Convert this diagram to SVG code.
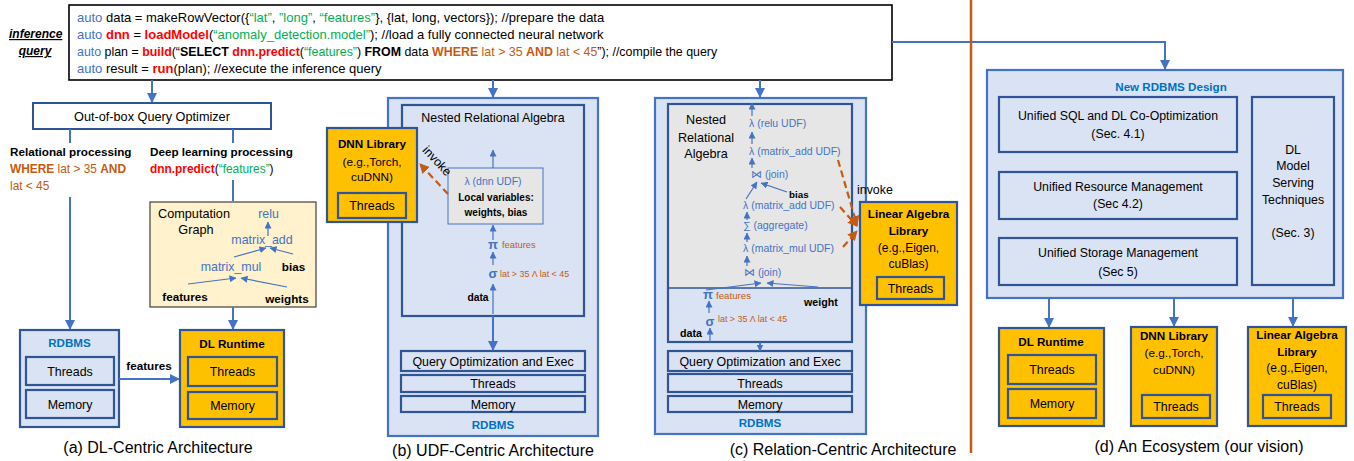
<svg xmlns="http://www.w3.org/2000/svg" width="1354" height="461" viewBox="0 0 1354 461">
<defs>
<marker id="ab" markerUnits="userSpaceOnUse" markerWidth="10" markerHeight="10" refX="9" refY="5" orient="auto" viewBox="0 0 10 10"><path d="M0,0 L10,5 L0,10 z" fill="#4472C4"/></marker>
<marker id="as" markerUnits="userSpaceOnUse" markerWidth="7" markerHeight="7" refX="6.5" refY="3.5" orient="auto" viewBox="0 0 7 7"><path d="M0,0 L7,3.5 L0,7 z" fill="#4472C4"/></marker>
<marker id="ao" markerUnits="userSpaceOnUse" markerWidth="10" markerHeight="10" refX="9" refY="5" orient="auto" viewBox="0 0 10 10"><path d="M0,0 L10,5 L0,10 z" fill="#C55A11"/></marker>
</defs>
<style>
text{font-family:"Liberation Sans",Arial,sans-serif;fill:#000}
.code{font-size:13px}
.kw{fill:#4472C4}
.fn{fill:#FF0000;font-weight:bold}
.str{fill:#00B050}
.b{font-weight:bold}
.or{fill:#C55A11}
.orb{fill:#C55A11;font-weight:bold}
.lbl{font-size:12.4px;text-anchor:middle}
.bl{font-size:11.7px;font-weight:bold;text-anchor:middle}
.cap{font-size:16px;text-anchor:middle}
.rd{fill:#0070C0;font-weight:bold;font-size:11.6px;text-anchor:middle}
.blue{fill:#4472C4}
.udf{fill:#4472C4;font-size:10.5px}
.sym{fill:#4472C4;font-weight:bold;font-size:13px;text-anchor:middle}
.ol{fill:#C55A11;font-size:9.3px}
.sb{font-weight:bold;font-size:10.3px}
.box{fill:#DAE3F3;stroke:#2F5597;stroke-width:2.2}
.obox{fill:#DAE3F3;stroke:#4472C4;stroke-width:2.2}
.ybox{fill:#FFC000;stroke:#2F5597;stroke-width:2.2}
.con{fill:none;stroke:#4472C4;stroke-width:2}
.thin{fill:none;stroke:#4472C4;stroke-width:1.2}
.dash{fill:none;stroke:#C55A11;stroke-width:2.2;stroke-dasharray:7 4}
</style>

<g id="inference-query">
<text x="9" y="38" class="b" style="font-size:12px;font-style:italic;text-decoration:underline">inference</text>
<text x="35" y="55" class="b" style="font-size:12px;font-style:italic;text-decoration:underline;text-anchor:middle">query</text>
</g>

<g id="query-code">
<rect x="69" y="5" width="823" height="75" fill="#fff" stroke="#000" stroke-width="1.6"/>
<text class="code" x="77" y="22"><tspan class="kw">auto</tspan> data = makeRowVector({<tspan class="str">“lat”</tspan>, <tspan class="str">”long”</tspan>, <tspan class="str">“features”</tspan>}, {lat, long, vectors}); //prepare the data</text>
<text class="code" x="77" y="39"><tspan class="kw">auto</tspan> <tspan class="fn">dnn</tspan> = <tspan class="fn">loadModel</tspan>(<tspan class="str">“anomaly_detection.model”</tspan>); //load a fully connected neural network</text>
<text class="code" x="77" y="56" style="font-size:12.4px"><tspan class="kw">auto</tspan> plan = <tspan class="fn">build</tspan>(“<tspan class="b">SELECT</tspan> <tspan class="fn">dnn.predict</tspan>(<tspan class="str">“features”</tspan>) <tspan class="b">FROM</tspan> data <tspan class="orb">WHERE</tspan><tspan class="or"> lat &gt; 35 </tspan><tspan class="orb">AND</tspan><tspan class="or"> lat &lt; 45</tspan>”); //compile the query</text>
<text class="code" x="77" y="73"><tspan class="kw">auto</tspan> result = <tspan class="fn">run</tspan>(plan); //execute the inference query</text>
</g>

<!-- (a) -->
<g id="optimizer">
<rect x="33" y="103" width="238" height="26" fill="#fff" stroke="#2F5597" stroke-width="2"/>
<text class="lbl" x="152" y="120.5" style="font-size:12.7px">Out-of-box Query Optimizer</text>
</g>
<g id="relational-processing">
<text x="10" y="156" class="b" style="font-size:11.7px">Relational processing</text>
<text x="10" y="173" style="font-size:11.9px"><tspan class="orb">WHERE</tspan><tspan class="or"> lat &gt; 35 </tspan><tspan class="orb">AND</tspan></text>
<text x="10" y="190" class="or" style="font-size:11.9px">lat &lt; 45</text>
</g>
<g id="dl-processing">
<text x="150" y="156" class="b" style="font-size:11.7px">Deep learning processing</text>
<text x="150" y="173" style="font-size:11.9px"><tspan class="fn">dnn.predict</tspan>(<tspan class="str">“features”</tspan>)</text>
</g>
<g id="computation-graph">
<rect x="150" y="202" width="166" height="105" fill="#FFF2CC" stroke="#404040" stroke-width="1.2"/>
<text x="158" y="218" style="font-size:12.7px">Computation</text>
<text x="196" y="234" style="font-size:12.7px;text-anchor:middle">Graph</text>
<text x="268.5" y="218" class="lbl blue">relu</text>
<text x="262" y="244" class="lbl blue">matrix_add</text>
<text x="231" y="271" class="lbl blue">matrix_mul</text>
<text x="293.5" y="271" class="bl">bias</text>
<text x="185" y="301" class="bl">features</text>
<text x="287" y="303" class="bl">weights</text>
<path class="thin" d="M268,236 V222" marker-end="url(#as)"/>
<path class="thin" d="M234,257 L266,248" marker-end="url(#as)"/>
<path class="thin" d="M293,254 L270,248" marker-end="url(#as)"/>
<path class="thin" d="M188,284 L236,278" marker-end="url(#as)"/>
<path class="thin" d="M287,287 L241,278" marker-end="url(#as)"/>
</g>
<g id="rdbms-a">
<rect class="box" x="20" y="330" width="99" height="97"/>
<text class="rd" x="69.5" y="347">RDBMS</text>
<rect class="box" x="26" y="357" width="88" height="28"/>
<text class="lbl" x="70" y="375.5">Threads</text>
<rect class="box" x="26" y="390" width="88" height="28"/>
<text class="lbl" x="70" y="408.5">Memory</text>
</g>
<g id="dl-runtime-a">
<rect class="ybox" x="180" y="330" width="104" height="97"/>
<text class="bl" x="232" y="348">DL Runtime</text>
<rect class="ybox" x="188" y="357" width="89" height="29"/>
<text class="lbl" x="232.5" y="376">Threads</text>
<rect class="ybox" x="188" y="392" width="89" height="27"/>
<text class="lbl" x="232.5" y="410">Memory</text>
</g>
<text class="bl" x="149" y="370">features</text>
<text class="cap" x="158" y="453">(a) DL-Centric Architecture</text>

<!-- (b) -->
<g id="rdbms-b">
<rect class="obox" x="388" y="98" width="210" height="338"/>
<rect class="box" x="402" y="105" width="182" height="211"/>
<text class="lbl" x="493" y="122">Nested Relational Algebra</text>
<rect class="box" x="401" y="351" width="184" height="20"/>
<text class="lbl" x="493" y="365.5">Query Optimization and Exec</text>
<rect class="box" x="401" y="375" width="184" height="17"/>
<text class="lbl" x="493" y="388">Threads</text>
<rect class="box" x="401" y="396" width="184" height="16"/>
<text class="lbl" x="493" y="408.5">Memory</text>
<text class="rd" x="493" y="429">RDBMS</text>
</g>
<g id="dnn-udf">
<rect x="448" y="168" width="95" height="56" fill="#E7E6E6" stroke="#4472C4" stroke-width="1"/>
<text class="udf" x="493" y="185" text-anchor="middle">λ (dnn UDF)</text>
<text class="sb" x="496" y="201" text-anchor="middle" style="font-size:10px">Local variables:</text>
<text class="sb" x="496" y="216" text-anchor="middle" style="font-size:10px">weights, bias</text>
</g>
<g id="ops-b">
<text class="sym" x="493" y="249">π</text>
<text class="ol" x="502" y="248">features</text>
<text class="sym" x="493" y="278">σ</text>
<text class="ol" x="500" y="277" style="font-size:8.9px">lat &gt; 35 Λ lat &lt; 45</text>
<text class="sb" x="478" y="301" text-anchor="middle">data</text>
</g>
<g id="dnn-library-b">
<rect class="ybox" x="327" y="128" width="90" height="94"/>
<text class="bl" x="372" y="147.5">DNN Library</text>
<text class="lbl" x="372" y="165.5" style="font-size:11.8px">(e.g.,Torch,</text>
<text class="lbl" x="372" y="180.5" style="font-size:11.8px">cuDNN)</text>
<rect class="ybox" x="338" y="193" width="68" height="25"/>
<text class="lbl" x="372" y="209.5">Threads</text>
</g>
<text x="0" y="4" class="lbl" transform="translate(437,161) rotate(47)">invoke</text>
<text class="cap" x="493" y="456">(b) UDF-Centric Architecture</text>

<!-- (c) -->
<g id="rdbms-c">
<rect class="obox" x="655" y="98" width="211" height="336"/>
<rect x="668" y="104" width="184" height="184" fill="#E7E6E6"/>
<rect x="668" y="288" width="184" height="54" fill="#DAE3F3"/>
<rect x="668" y="104" width="184" height="238" fill="none" stroke="#2F5597" stroke-width="2.2"/>
<line x1="668" y1="288" x2="852" y2="288" stroke="#2F5597" stroke-width="1.4"/>
<text class="lbl" x="706" y="123.5" style="font-size:12.6px">Nested</text>
<text class="lbl" x="706" y="141.5" style="font-size:12.6px">Relational</text>
<text class="lbl" x="706" y="158" style="font-size:12.6px">Algebra</text>
<rect class="box" x="668" y="351" width="184" height="20"/>
<text class="lbl" x="760" y="365.5">Query Optimization and Exec</text>
<rect class="box" x="668" y="374" width="184" height="18"/>
<text class="lbl" x="760" y="387.5">Threads</text>
<rect class="box" x="668" y="396" width="184" height="16"/>
<text class="lbl" x="760" y="408.5">Memory</text>
<text class="rd" x="760" y="427">RDBMS</text>
</g>
<g id="ops-c">
<text class="udf" x="749" y="127">λ (relu UDF)</text>
<text class="udf" x="749" y="155">λ (matrix_add UDF)</text>
<text class="udf" x="751" y="178">⋈ (join)</text>
<text class="sb" x="789" y="197.5" style="font-size:9.8px">bias</text>
<text class="udf" x="743" y="209">λ (matrix_add UDF)</text>
<text class="udf" x="743" y="229">∑ (aggregate)</text>
<text class="udf" x="743" y="252">λ (matrix_mul UDF)</text>
<text class="udf" x="744" y="276">⋈ (join)</text>
<text class="sym" x="708" y="299">π</text>
<text class="ol" x="716" y="298.5" style="font-size:9.7px">features</text>
<text class="sb" x="804" y="306" style="font-size:10.7px">weight</text>
<text class="sym" x="710" y="326">σ</text>
<text class="ol" x="718" y="321.5" style="font-size:8.9px">lat &gt; 35 Λ lat &lt; 45</text>
<text class="sb" x="680" y="337" style="font-size:10.7px">data</text>
</g>
<g id="linear-algebra-c">
<rect class="ybox" x="860" y="202" width="97" height="103"/>
<text class="bl" x="908.5" y="218">Linear Algebra</text>
<text class="bl" x="908.5" y="235">Library</text>
<text class="lbl" x="908.5" y="251.5" style="font-size:12px">(e.g.,Eigen,</text>
<text class="lbl" x="908.5" y="267.5" style="font-size:12px">cuBlas)</text>
<rect class="ybox" x="877" y="277" width="67" height="22"/>
<text class="lbl" x="910.5" y="292.5">Threads</text>
</g>
<text x="857" y="194" style="font-size:12.4px">invoke</text>
<text class="cap" x="843" y="455">(c) Relation-Centric Architecture</text>

<!-- (d) -->
<g id="new-rdbms-design">
<rect class="obox" x="987" y="70" width="356" height="228"/>
<text class="rd" x="1171" y="91">New RDBMS Design</text>
</g>
<g id="co-optimization">
<rect class="box" x="999" y="97" width="238" height="55"/>
<text class="lbl" x="1118" y="120" style="font-size:12.3px">Unified SQL and DL Co-Optimization</text>
<text class="lbl" x="1118" y="138" style="font-size:12.3px">(Sec. 4.1)</text>
</g>
<g id="resource-management">
<rect class="box" x="999" y="172" width="238" height="47"/>
<text class="lbl" x="1118" y="191" style="font-size:12.3px">Unified Resource Management</text>
<text class="lbl" x="1118" y="208" style="font-size:12.3px">(Sec 4.2)</text>
</g>
<g id="storage-management">
<rect class="box" x="999" y="238" width="238" height="47"/>
<text class="lbl" x="1118" y="257" style="font-size:12.3px">Unified Storage Management</text>
<text class="lbl" x="1118" y="276" style="font-size:12.3px">(Sec 5)</text>
</g>
<g id="model-serving">
<rect class="box" x="1252" y="97" width="82" height="188"/>
<text class="lbl" x="1293" y="154" style="font-size:12.3px">DL</text>
<text class="lbl" x="1293" y="170" style="font-size:12.3px">Model</text>
<text class="lbl" x="1293" y="187" style="font-size:12.3px">Serving</text>
<text class="lbl" x="1293" y="204" style="font-size:12.3px">Techniques</text>
<text class="lbl" x="1293" y="237" style="font-size:12.3px">(Sec. 3)</text>
</g>
<g id="dl-runtime-d">
<rect class="ybox" x="999" y="328" width="105" height="98"/>
<text class="bl" x="1051" y="346">DL Runtime</text>
<rect class="ybox" x="1008" y="355" width="88" height="29"/>
<text class="lbl" x="1052" y="374">Threads</text>
<rect class="ybox" x="1008" y="389" width="88" height="29"/>
<text class="lbl" x="1052" y="408">Memory</text>
</g>
<g id="dnn-library-d">
<rect class="ybox" x="1131" y="327" width="86" height="99"/>
<text class="bl" x="1174" y="340">DNN Library</text>
<text class="lbl" x="1174" y="357" style="font-size:11.8px">(e.g.,Torch,</text>
<text class="lbl" x="1174" y="374" style="font-size:11.8px">cuDNN)</text>
<rect class="ybox" x="1142" y="395" width="68" height="23"/>
<text class="lbl" x="1176" y="411">Threads</text>
</g>
<g id="linear-algebra-d">
<rect class="ybox" x="1248" y="327" width="98" height="99"/>
<text class="bl" x="1297" y="339">Linear Algebra</text>
<text class="bl" x="1297" y="356">Library</text>
<text class="lbl" x="1297" y="372" style="font-size:12px">(e.g.,Eigen,</text>
<text class="lbl" x="1297" y="389" style="font-size:12px">cuBlas)</text>
<rect class="ybox" x="1263" y="395" width="68" height="23"/>
<text class="lbl" x="1297" y="411">Threads</text>
</g>
<text class="cap" x="1199" y="452">(d) An Ecosystem (our vision)</text>

<g id="connectors">
<path class="con" d="M152,80 V102" marker-end="url(#ab)"/>
<path class="con" d="M493,80 V97" marker-end="url(#ab)"/>
<path class="con" d="M760,80 V97" marker-end="url(#ab)"/>
<path class="con" d="M892,42 H1165 V69" marker-end="url(#ab)"/>
<path class="con" d="M70,129 V143"/>
<path class="con" d="M70,197 V329" marker-end="url(#ab)"/>
<path class="con" d="M233,129 V143"/>
<path class="con" d="M233,180 V201"/>
<path class="con" d="M233,307 V329" marker-end="url(#ab)"/>
<path class="con" d="M119,379 H179" marker-end="url(#ab)"/>
<path class="thin" d="M493,168 V150" marker-end="url(#as)"/>
<path class="thin" d="M493,240 V225" marker-end="url(#as)"/>
<path class="thin" d="M493,265 V252" marker-end="url(#as)"/>
<path class="thin" d="M493,314 V284" marker-end="url(#as)"/>
<path class="con" d="M493,316 V350" marker-end="url(#ab)"/>
<path class="dash" d="M448,194 L420,164" marker-end="url(#ao)"/>
<path class="thin" d="M752,116 V103" marker-end="url(#as)"/>
<path class="thin" d="M752,144 V132" marker-end="url(#as)"/>
<path class="thin" d="M752,168 V158" marker-end="url(#as)"/>
<path class="thin" d="M746,199 L757,182" marker-end="url(#as)"/>
<path class="thin" d="M787,192 L761,183" marker-end="url(#as)"/>
<path class="thin" d="M747,220 V212" marker-end="url(#as)"/>
<path class="thin" d="M747,242 V233" marker-end="url(#as)"/>
<path class="thin" d="M747,266 V256" marker-end="url(#as)"/>
<path class="thin" d="M706,290 L761,283" marker-end="url(#as)"/>
<path class="thin" d="M818,287 L767,283" marker-end="url(#as)"/>
<path class="thin" d="M709,313 V301" marker-end="url(#as)"/>
<path class="thin" d="M710,342 V328" marker-end="url(#as)"/>
<path class="con" d="M760,342 V351" marker-end="url(#as)"/>
<path class="dash" d="M838,160 L857,225" marker-end="url(#ao)"/>
<path class="dash" d="M840,207 L857,226" marker-end="url(#ao)"/>
<path class="dash" d="M843,247 L857,231" marker-end="url(#ao)"/>
<path class="con" d="M1049,298 V327" marker-end="url(#ab)"/>
<path class="con" d="M1174,298 V326" marker-end="url(#ab)"/>
<path class="con" d="M1293,298 V326" marker-end="url(#ab)"/>
</g>
<line id="divider" x1="971" y1="0" x2="971" y2="453" stroke="#C55A11" stroke-width="2.5"/>
</svg>
